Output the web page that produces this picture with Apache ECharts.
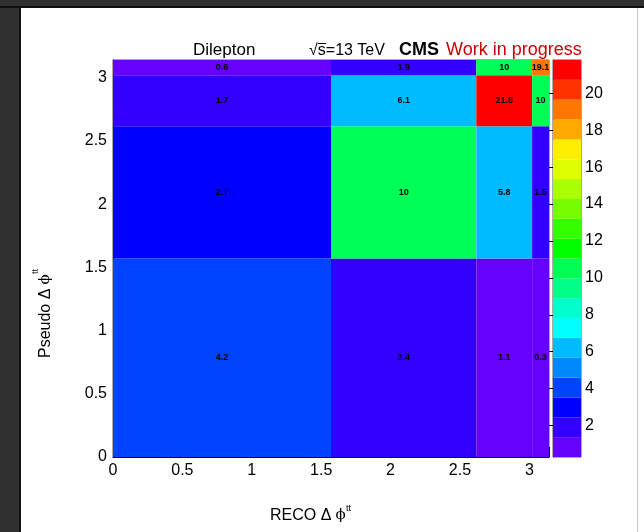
<!DOCTYPE html>
<html><head><meta charset="utf-8">
<script src="https://cdn.jsdelivr.net/npm/echarts@6/dist/echarts.min.js"></script>
<style>html,body{margin:0;padding:0;background:#fff}#c{width:644px;height:532px}</style>
</head><body><div id="c"></div>
<script>
// bin edges (RECO on x, Pseudo on y)
const xEdges = [0, 1.5708, 2.618, 3.02, 3.1416];
const yEdges = [0, 1.5708, 2.618, 3.02, 3.1416];
// cell values, rows from bottom (y bin 0) to top
const row0 = [4.2, 2.4, 1.1, 0.3];
const row1 = [2.7, 10, 5.8, 1.5];
const row2 = [1.7, 6.1, 21.8, 10];
const row3 = [0.6, 1.9, 10, 19.1];
const rows = [row0, row1, row2, row3];
const zMin = 0.3, zMax = 21.8;
const cbTicks = [2, 4, 6, 8, 10, 12, 14, 16, 18, 20];
const palette = ['#6600ff','#3300ff','#0000ff','#0044ff','#0088ff','#00bbff','#00ffff','#00ffcc','#00ff88','#00ff55',
                 '#00ff00','#33ff00','#77ff00','#aaff00','#ddff00','#ffee00','#ffaa00','#ff7700','#ff3300','#ff0000'];
const nCol = palette.length;
const step = (zMax - zMin) / nCol;
function colorOf(v){ let i = Math.floor((v - zMin) / step); if (i < 0) i = 0; if (i > nCol - 1) i = nCol - 1; return palette[i]; }

const cells = [];
rows.forEach((r, j) => r.forEach((v, i) => cells.push([xEdges[i], xEdges[i+1], yEdges[j], yEdges[j+1], v])));
const bands = palette.map((c, i) => [zMin + i * step, zMin + (i + 1) * step, i]);

const FONT = "'Liberation Sans', Arial, Helvetica, sans-serif";
const SERIF = "'DejaVu Serif', 'Liberation Serif', serif";
const chart = echarts.init(document.getElementById('c'), null, {renderer: 'canvas'});
function txt(x, y, s, font, fill, rot) {
  const o = {type: 'text', x: x, y: y, z: 50, style: {text: s, font: font, fill: fill || '#000', align: 'left', verticalAlign: 'middle'}};
  if (rot) o.rotation = rot;
  return o;
}
chart.setOption({
  animation: false,
  backgroundColor: '#ffffff',
  grid: [
    {left: 113, top: 60, width: 436, height: 397, show: true, borderColor: '#555', borderWidth: 1, backgroundColor: 'transparent'},
    {left: 553, top: 60, width: 28, height: 397, show: true, borderColor: '#555', borderWidth: 1, backgroundColor: 'transparent'}
  ],
  xAxis: [
    {gridIndex: 0, type: 'value', min: 0, max: 3.1416, interval: 0.5,
     axisLine: {show: true, lineStyle: {color: '#000', width: 1}},
     axisTick: {show: true, inside: true, length: 10, lineStyle: {color: '#000'}},
     minorTick: {show: true, splitNumber: 5, length: 5, lineStyle: {color: '#000'}},
     splitLine: {show: false},
     axisLabel: {color: '#000', fontSize: 16, fontFamily: FONT, margin: 6, showMaxLabel: false,
       formatter: v => (Math.abs(v * 2 - Math.round(v * 2)) < 1e-6 ? String(v) : '')}},
    {gridIndex: 1, type: 'value', min: 0, max: 1, show: false}
  ],
  yAxis: [
    {gridIndex: 0, type: 'value', min: 0, max: 3.1416, interval: 0.5,
     axisLine: {show: true, lineStyle: {color: '#000', width: 1}},
     axisTick: {show: true, inside: true, length: 14, lineStyle: {color: '#000'}},
     minorTick: {show: true, splitNumber: 5, length: 7, lineStyle: {color: '#000'}},
     splitLine: {show: false},
     axisLabel: {color: '#000', fontSize: 16, fontFamily: FONT, margin: 6, showMaxLabel: false,
       formatter: v => (Math.abs(v * 2 - Math.round(v * 2)) < 1e-6 ? String(v) : '')}},
    {gridIndex: 1, type: 'value', min: zMin, max: zMax, position: 'right',
     axisLine: {show: true, lineStyle: {color: '#555'}},
     axisTick: {show: true, inside: true, length: 13, customValues: cbTicks, lineStyle: {color: '#000'}},
     splitLine: {show: false},
     axisLabel: {color: '#000', fontSize: 16, fontFamily: FONT, margin: 4, customValues: cbTicks}}
  ],
  series: [
    {type: 'custom', xAxisIndex: 0, yAxisIndex: 0, data: cells, clip: true, z: 1,
     renderItem: (params, api) => {
       const p0 = api.coord([api.value(0), api.value(2)]);
       const p1 = api.coord([api.value(1), api.value(3)]);
       const v = api.value(4);
       const x = Math.min(p0[0], p1[0]), y = Math.min(p0[1], p1[1]);
       const w = Math.abs(p1[0] - p0[0]), h = Math.abs(p1[1] - p0[1]);
       return {type: 'group', children: [
         {type: 'rect', shape: {x: x, y: y, width: w, height: h}, style: {fill: colorOf(v), stroke: null}},
         {type: 'text', style: {text: String(v), x: x + w / 2, y: y + h / 2, align: 'center', verticalAlign: 'middle',
           fill: '#000', font: "bold 9px " + FONT}}
       ]};
     }},
    {type: 'custom', xAxisIndex: 1, yAxisIndex: 1, data: bands, z: 1,
     renderItem: (params, api) => {
       const p0 = api.coord([0, api.value(0)]);
       const p1 = api.coord([1, api.value(1)]);
       return {type: 'rect', shape: {x: p0[0], y: p1[1], width: p1[0] - p0[0], height: p0[1] - p1[1]},
         style: {fill: palette[api.value(2)]}};
     }}
  ],
  graphic: [
    {type: 'rect', x: 0, y: 0, shape: {width: 19, height: 532}, style: {fill: '#303030'}, z: 100},
    {type: 'rect', x: 19, y: 0, shape: {width: 2, height: 532}, style: {fill: '#111'}, z: 100},
    {type: 'rect', x: 0, y: 0, shape: {width: 644, height: 6}, style: {fill: '#303030'}, z: 100},
    {type: 'rect', x: 0, y: 6, shape: {width: 644, height: 2}, style: {fill: '#111'}, z: 100},
    {type: 'line', shape: {x1: 637.5, y1: 8, x2: 637.5, y2: 532}, style: {stroke: '#c8c8c8', lineWidth: 1}, z: 100},
    txt(193, 50.8, 'Dilepton', '17px ' + FONT),
    txt(309, 51, '√s=13 TeV', '16px ' + FONT),
    {type: 'line', shape: {x1: 318, y1: 43.5, x2: 326, y2: 43.5}, style: {stroke: '#000', lineWidth: 1}, z: 50},
    txt(399, 50.4, 'CMS', 'bold 18px ' + FONT),
    txt(446, 50.4, 'Work in progress', '18px ' + FONT, '#cc0000'),
    txt(270, 515.4, 'RECO Δ', '16px ' + FONT),
    txt(335.5, 515.4, 'ϕ', '15px ' + SERIF),
    txt(346, 509, 'tt', '9px ' + FONT),
    txt(45.4, 358, 'Pseudo Δ', '16px ' + FONT, '#000', Math.PI / 2),
    txt(45.4, 284.5, 'ϕ', '15px ' + SERIF, '#000', Math.PI / 2),
    txt(35.5, 274, 'tt', '9px ' + FONT, '#000', Math.PI / 2)
  ]
});
</script></body></html>
